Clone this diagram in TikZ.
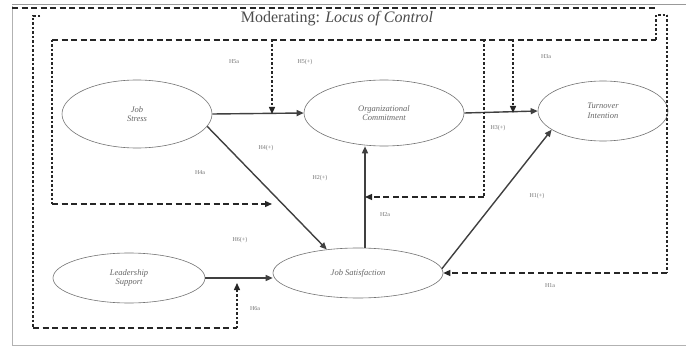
\documentclass[tikz,border=0pt]{standalone}
\usepackage{fontspec}
\setmainfont{Liberation Serif}
\usetikzlibrary{shapes.geometric,arrows.meta,calc}
\begin{document}
\begin{tikzpicture}[x=1pt,y=-1pt,
  construct/.style={ellipse,draw=black!55,line width=0.6pt,inner sep=0pt,
    font=\fontsize{8.5}{9.5}\selectfont\itshape,text=black!60,align=center},
  effect/.style={draw=black!75,line width=1.4pt,-{Triangle[length=7pt,width=6pt]}},
  modh/.style={draw=black!85,line width=1.3pt,dash pattern=on 6pt off 3.5pt},
  modv/.style={draw=black!85,line width=1.4pt,dash pattern=on 2.5pt off 2pt},
  modtip/.style={-{Triangle[length=7pt,width=6pt]}},
  hyp/.style={font=\fontsize{6}{6.5}\selectfont,text=black!55,inner sep=0pt},
]
\useasboundingbox (0,0) rectangle (686,353);
\fill[white] (0,0) rectangle (686,353);

% outer frame and moderator header
\draw[black!30,line width=1pt] (12,6) -- (12,345) -- (686,345);
\draw[black!40,line width=0.8pt] (12,4.5) -- (686,4.5);
\draw[modh] (12,8) -- (656,8);
\node[font=\fontsize{16}{18}\selectfont,text=black!70] (title) at (337,19)
  {Moderating: \textit{Locus of Control}};

% constructs
\node[construct,minimum width=150pt,minimum height=68pt] (js) at (137,114) {Job\\Stress};
\node[construct,minimum width=160pt,minimum height=66pt] (oc) at (384,113) {Organizational\\Commitment};
\node[construct,minimum width=130pt,minimum height=60pt] (ti) at (603,111) {Turnover\\Intention};
\node[construct,minimum width=152pt,minimum height=50pt] (ls) at (129,278) {Leadership\\Support};
\node[construct,minimum width=170pt,minimum height=50pt] (jsat) at (358,273) {Job Satisfaction};

% direct effects
\coordinate (vx) at (365,0);
\draw[effect] (js.east) -- (oc.west);
\draw[effect] (js.-10) -- (jsat.143);
\draw[effect] (ls.east) -- (jsat.west |- ls.east);
\draw[effect] (jsat.north -| vx) -- (oc.south -| vx);
\draw[effect] (oc.east) -- (ti.west);
\draw[effect] (jsat.3) -- (ti.200);

% moderating paths
\coordinate (tl) at (52,40);
\coordinate (tr) at (656,40);
\coordinate (trh) at (656,15);
\coordinate (rtop) at (667,15);
\coordinate (rb) at (667,273);
\coordinate (lo) at (33,16);
\coordinate (lob) at (33,328);
\coordinate (l6) at (237,328);
\coordinate (tip6) at (237,283);
\coordinate (lib) at (52,204);
\coordinate (tip4) at (272,204);
\coordinate (t5) at (272,40);
\coordinate (t2) at (484,40);
\coordinate (m2) at (484,197);
\coordinate (t3) at (513,40);

% inner loop: top line, left branch (H4a) and drops (H5a, H2a, H3a)
\draw[modh] (tl) -- (tr);
\draw[modv] (tr) -- (trh) -- (rtop);
\draw[modv] (tl) -- (lib);
\draw[modh,modtip] (lib) -- (tip4);
\draw[modv,modtip] (t5) -- (t5 |- js.east);
\draw[modv] (t2) -- (m2);
\draw[modh,modtip] (m2) -- (m2 -| vx);
\draw[modv,modtip] (t3) -- (t3 |- oc.east);

% outer loop: left side to H6a, right side to H1a
\draw[modv] (40,16) -- (lo) -- (lob);
\draw[modh] (lob) -- (l6);
\draw[modv,modtip] (l6) -- (tip6);
\draw[modv] (rtop) -- (rb);
\draw[modh,modtip] (rb) -- (jsat.east);

% hypothesis labels
\node[hyp] (h5a) at (234,62) {H5a};
\node[hyp] (h5) at (305,62) {H5(+)};
\node[hyp] (h3a) at (546,57) {H3a};
\node[hyp] (h4) at (266,148) {H4(+)};
\node[hyp] (h4a) at (200,173) {H4a};
\node[hyp] (h2) at (320,178) {H2(+)};
\node[hyp] (h3) at (498,128) {H3(+)};
\node[hyp] (h2a) at (385,215) {H2a};
\node[hyp] (h1) at (537,196) {H1(+)};
\node[hyp] (h6) at (240,240) {H6(+)};
\node[hyp] (h6a) at (255,309) {H6a};
\node[hyp] (h1a) at (550,286) {H1a};
\end{tikzpicture}
\end{document}
